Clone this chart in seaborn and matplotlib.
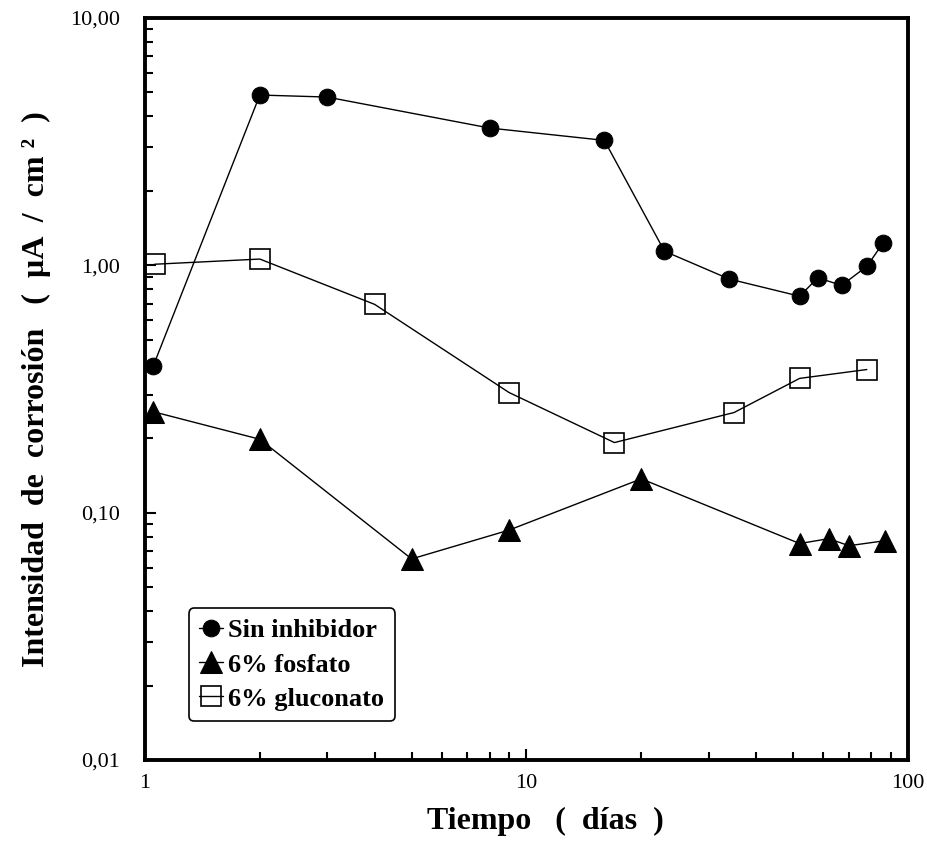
import matplotlib
matplotlib.use("Agg")
import matplotlib.pyplot as plt
import seaborn as sns

# tiempo (dias) e intensidad de corrosion (uA/cm2)
dias_sin = [1.05, 2, 3, 8, 16, 23, 34, 52, 58, 67, 78, 86]
icorr_sin = [0.39, 4.88, 4.79, 3.59, 3.2, 1.14, 0.88, 0.75, 0.89, 0.83, 0.99, 1.23]

dias_fosf = [1.05, 2, 5, 9, 20, 52, 62, 70, 87]
icorr_fosf = [0.256, 0.198, 0.065, 0.085, 0.137, 0.075, 0.0785, 0.0735, 0.077]

dias_gluc = [1.06, 2, 4, 9, 17, 35, 52, 78]
icorr_gluc = [1.01, 1.06, 0.695, 0.306, 0.192, 0.254, 0.349, 0.379]

ytick_vals = [0.01, 0.1, 1, 10]
ytick_labels = ["0,01", "0,10", "1,00", "10,00"]
xtick_vals = [1, 10, 100]
xtick_labels = ["1", "10", "100"]

sns.set_style("ticks")
plt.rcParams["font.family"] = ["Liberation Serif", "DejaVu Serif"]
plt.rcParams["text.color"] = "black"
plt.rcParams["axes.labelcolor"] = "black"
plt.rcParams["xtick.color"] = "black"
plt.rcParams["ytick.color"] = "black"

fig = plt.figure(figsize=(9.27, 8.48), dpi=100)
ax = fig.add_axes([0.1564, 0.1038, 0.8231, 0.875])

sns.lineplot(x=dias_sin, y=icorr_sin, ax=ax, color="black", lw=1, marker="o",
             markersize=12, markeredgecolor="black", label="Sin inhibidor")
sns.lineplot(x=dias_fosf, y=icorr_fosf, ax=ax, color="black", lw=1, marker="^",
             markersize=16, markeredgecolor="black", label="6% fosfato")
sns.lineplot(x=dias_gluc, y=icorr_gluc, ax=ax, color="black", lw=1, marker="s",
             markersize=15, markerfacecolor="none", markeredgecolor="black",
             markeredgewidth=1.2, label="6% gluconato")

ax.set_xscale("log")
ax.set_yscale("log")
ax.set_xlim(1, 100)
ax.set_ylim(0.01, 10)
ax.set_xticks(xtick_vals, xtick_labels)
ax.set_yticks(ytick_vals, ytick_labels)

for s in ax.spines.values():
    s.set_linewidth(2.8)
    s.set_color("black")

ax.tick_params(axis="both", which="both", direction="in", top=False, right=False,
               labelsize=16)
ax.tick_params(axis="y", which="both", pad=18)
ax.tick_params(axis="x", which="both", pad=10)
ax.tick_params(axis="both", which="major", length=8, width=1.5)
ax.tick_params(axis="both", which="minor", length=6, width=1.5)

ax.set_xlabel("Tiempo   (  días  )", fontsize=23, fontweight="bold")
ax.xaxis.set_label_coords(0.525, -0.063)
ax.set_ylabel("Intensidad  de  corrosión   (  µA  /  cm ²  )", fontsize=23,
              fontweight="bold", labelpad=14)

leg = ax.legend(loc="upper left", bbox_to_anchor=(0.04, 0.222), frameon=True,
                fancybox=True, handlelength=0.9, handletextpad=0.2,
                borderpad=0.4, labelspacing=0.4,
                prop={"size": 19, "weight": "bold"})
leg.get_frame().set_edgecolor("black")
leg.get_frame().set_linewidth(1.2)
leg.get_frame().set_alpha(1)

fig.savefig("out.png", dpi=100)
